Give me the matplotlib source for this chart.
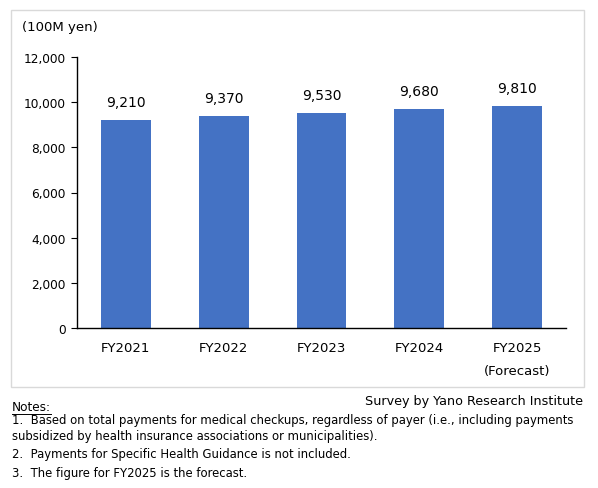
import matplotlib.pyplot as plt
from matplotlib.patches import Rectangle

years = ['FY2021', 'FY2022', 'FY2023', 'FY2024', 'FY2025\n(Forecast)']
values = [9210, 9370, 9530, 9680, 9810]
yticks = [0, 2000, 4000, 6000, 8000, 10000, 12000]

notes = [
    '1.  Based on total payments for medical checkups, regardless of payer (i.e., including payments',
    'subsidized by health insurance associations or municipalities).',
    '2.  Payments for Specific Health Guidance is not included.',
    '3.  The figure for FY2025 is the forecast.',
]

W, H = 598, 489
fig = plt.figure(figsize=(W / 100, H / 100), dpi=100)
plt.rcParams['font.family'] = ['DejaVu Sans']

# chart frame
fig.patches.append(Rectangle((11 / W, 1 - 388 / H), 573 / W, 377 / H,
                             transform=fig.transFigure, fill=False,
                             edgecolor='#d9d9d9', linewidth=1))

ax = fig.add_axes([77 / W, 1 - 329 / H, 489 / W, 271 / H])
x = range(len(years))
bars = ax.bar(x, values, width=0.51, color='#4472C4')
for b, v in zip(bars, values):
    ax.annotate(f'{v:,}', (b.get_x() + b.get_width() / 2, v),
                xytext=(0, 8), textcoords='offset points',
                ha='center', va='bottom', fontsize=10)

ax.set_xlim(-0.5, len(years) - 0.5)
ax.set_ylim(0, 12000)
ax.set_yticks(yticks)
ax.set_yticklabels([f'{t:,}' for t in yticks], fontsize=8.7)
ax.set_xticks(list(x))
ax.set_xticklabels(years, fontsize=9.5, linespacing=2.0)
ax.tick_params(axis='x', length=0, pad=9)
ax.tick_params(axis='y', length=4, width=0.8, direction='out', pad=4)
for s in ['top', 'right']:
    ax.spines[s].set_visible(False)
ax.spines['left'].set_linewidth(1)
ax.spines['bottom'].set_linewidth(1)

fig.text(22 / W, 1 - 28 / H, '(100M yen)', fontsize=9.5, va='center')

fig.text(583 / W, 1 - 402 / H, 'Survey by Yano Research Institute',
         fontsize=9.2, ha='right', va='center')
fig.text(12 / W, 1 - 408 / H, 'Notes:', fontsize=8.7, va='center')
fig.add_artist(plt.Line2D([12 / W, 51 / W], [1 - 415 / H, 1 - 415 / H],
                          color='black', linewidth=0.7))
for ypx, line in zip([421, 437, 455, 474], notes):
    fig.text(12 / W, 1 - ypx / H, line, fontsize=8.4, va='center')

fig.savefig('out.png', dpi=100)
